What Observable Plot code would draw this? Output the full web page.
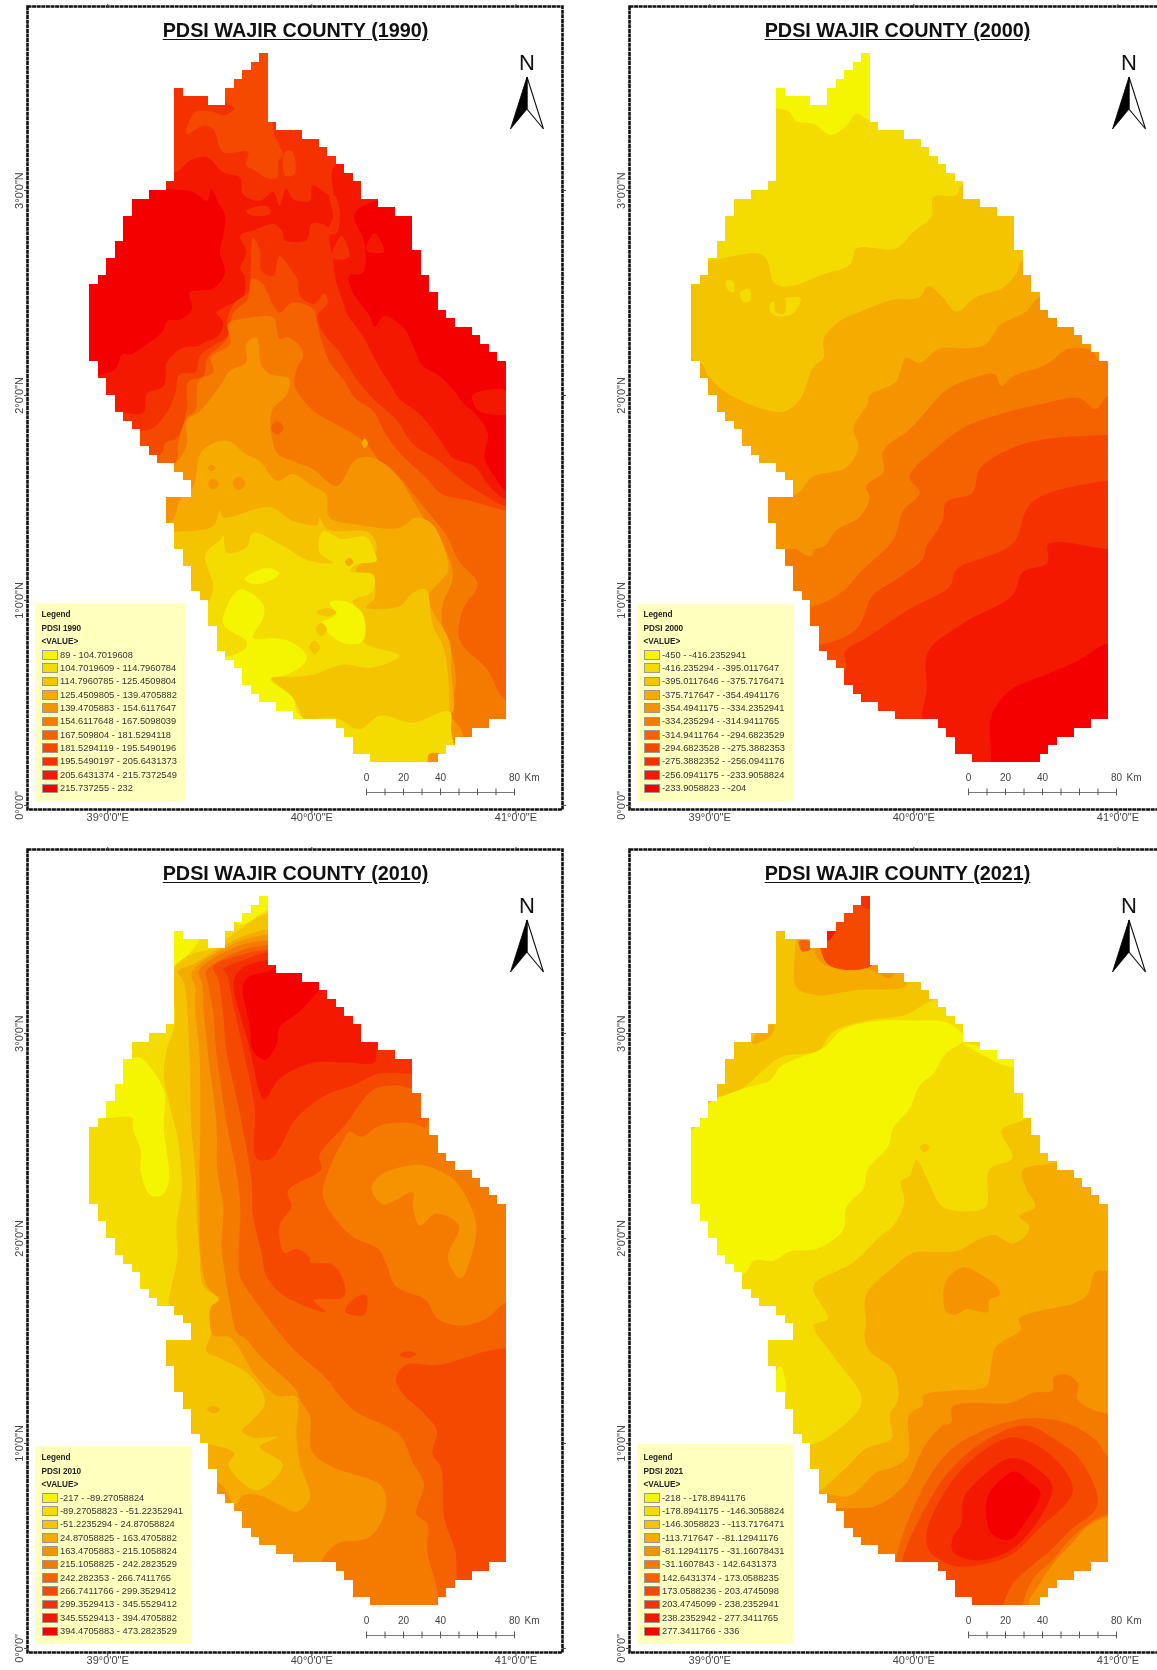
<!DOCTYPE html>
<html>
<head>
<meta charset="utf-8">
<script src="https://cdn.jsdelivr.net/npm/d3@7"></script>
<script src="https://cdn.jsdelivr.net/npm/@observablehq/plot@0.6"></script>
<style>
html,body{margin:0;padding:0;background:#fff;}
#page{position:relative;width:1157px;height:1670px;overflow:hidden;background:#fff;filter:blur(.45px);font-family:"Liberation Sans",Arial,sans-serif;}
.panel{position:absolute;width:580px;height:827px;}
.panel svg.plot{position:absolute;left:0;top:0;}
.title{position:absolute;left:26.5px;width:538px;top:18px;text-align:center;font-size:19.8px;line-height:24px;font-weight:bold;color:#111;text-decoration:underline;text-underline-offset:2px;white-space:nowrap;}
.north{position:absolute;left:502px;top:49px;}
.legend{position:absolute;left:35px;background:#FFFFBE;color:#333;}
.legend div{position:absolute;white-space:nowrap;line-height:10px;}
.legend .h{left:6.5px;font-size:8.2px;font-weight:bold;color:#222;}
.legend .sw{left:7px;width:14px;height:7.6px;border:1px solid #999;}
.legend .t{font-size:9.3px;}
</style>
</head>
<body>
<div id="page"></div>
<script>
// Ordered class ramp of the maps
const classColors = ["#F5F500","#F5DC00","#F5C400","#F5AB00","#F59300","#F57A00","#F56200","#F54900","#F53100","#F51800","#F50000"];
const classIndex = [0,1,2,3,4,5,6,7,8,9,10];

// Raster footprint of the county on the 1/24 degree grid: first and last+1 column per row
const gridLon0 = 38.912, gridLat0 = 3.667, gridStep = 1/24;
const rowLeft = [20,19,18,17,10,10,10,10,10,10,10,10,10,10,10,9,7,5,5,4,4,4,3,3,2,2,1,0,0,0,0,0,0,0,0,0,1,1,2,2,3,3,4,5,6,6,7,8,10,11,12,12,9,9,9,10,10,10,11,11,12,12,12,13,14,14,14,15,15,15,16,17,18,18,19,20,22,24,29,30,31,31,33];
const rowRight = [21,21,21,21,21,21,21,21,22,25,27,28,29,30,31,32,32,34,36,38,38,38,38,39,39,39,40,40,41,41,42,43,45,46,47,48,49,49,49,49,49,49,49,49,49,49,49,49,49,49,49,49,49,49,49,49,49,49,49,49,49,49,49,49,49,49,49,49,49,49,49,49,49,49,49,49,49,49,47,45,43,42,41];
const rowGaps = [[4,11,16],[5,14,16]];

const everything = [-2,-2, 52,-2, 52,86, -2,86];

const zones1990 = [
 [10, everything],
 [9, [32.9,17.4, 31.1,18.9, 32.3,22.1, 32.1,25.6, 30.5,26, 30.9,27.9, 32.9,30.7, 33.5,32, 34.6,30.7, 37,32.2, 38,34.2, 39.1,36.5, 41.1,37.7, 42.7,39.3, 44,41, 45.2,42, 46.8,44.5, 46.4,47.3, 47.7,49.6, 49,51.2, 52,51.2, 52,86, -2,86, -2,39.3, 3,36.9, 3.8,35.2, 4.8,35.2, 6.7,34, 8.5,32.6, 9.1,31.3, 10.6,31.1, 12,29.9, 11.8,27.9, 14.5,27.5, 15.9,25.6, 15.3,23.2, 15.7,21.3, 15.9,18.9, 15.1,17.4, 14.3,15.8, 13.8,17.2, 12.2,16.2, 9,15.8, -2,15, -2,-2, 52,-2, 52,16]],
 [9, [45,40, 47,39.3, 49,39.5, 49.5,42, 47,42.2, 45.5,41.6]],
 [8, [-2,-2, 52,-2, 52,10, 28.8,13.1, 28.6,16.6, 28.2,16.6, 26.2,15.4, 25.9,17.2, 23.9,17, 23.1,15.8, 22.3,17.8, 21.6,16.2, 20,17.2, 18,16.4, 17.7,14.5, 15.7,13.9, 13.8,12.1, 11.8,12.5, 10,13.9, -2,14]],
 [8, [28.2,16.6, 28.8,16.6, 29.4,18.5, 29,21, 28,21, 28.6,19]],
 [8, [18.4,18.4, 20.8,17.8, 21.3,18.6, 20.2,19, 18.8,18.8]],
 [8, [28.5,23.9, 29.6,21.3, 30.5,23.8]],
 [9, [32.5,23, 33.5,21, 34.6,23.2]],
 [8, [17.7,21.3, 19.2,20.7, 21.6,19.9, 22.7,20.9, 22.9,21.8, 25.5,21.8, 26.1,19.9, 28,20.3, 28.2,22.1, 28.6,24, 28.8,26, 29.8,29.1, 30.4,30.7, 32.1,33, 33.7,36.1, 35.2,38.5, 36.4,40.4, 38.8,42.2, 41.1,45.1, 42.7,47.3, 45.4,48.4, 46.8,50.4, 49,52.2, 52,52.2, 52,86, -2,86, -2,42, 6.3,42, 6.7,39.8, 8.7,38.9, 9.1,36.1, 11,34.4, 12.8,34.2, 13.4,33.8, 15.1,33, 15.7,31.4, 14.9,30.3, 15.7,29.7, 18,28.5, 18.2,26, 17.7,25.2, 18.4,23.2]],
 [7, [16,-2, 24,-2, 21.5,8.5, 22.3,10.7, 22.7,11.9, 22.2,12.5, 22,14.5, 20.8,14.5, 19.2,13.5, 18.4,13.1, 18.6,11.5, 15.7,11.5, 14.5,8.8, 13.4,8.4, 11.4,9.4, 12.4,6.8, 14.5,6.8, 15.8,7.2, 17,6.4, 15.9,5.5, 15.9,3.7]],
 [7, [22.9,11.6, 23.8,11.4, 24.1,14, 23,14.3]],
 [7, [-2,44, 7,44, 8.9,42.2, 10,40, 10.6,37.5, 12.4,37.3, 13,35.3, 14.5,34.2, 16.3,32.9, 16.1,31.4, 17,29.2, 18.7,27.8, 18.9,25.4, 19.2,21.5, 20,23, 20.2,25.4, 21.6,26, 22.3,23.7, 23.9,25.6, 24.5,26.6, 24.7,28.3, 26.3,29.3, 27.6,28.1, 28,29.1, 26.8,30.7, 27.4,32.6, 29.4,35, 31.3,38, 33.3,40.4, 36,42.8, 38,45.7, 41.1,47.7, 43.8,50, 46.6,51.8, 49,53, 52,53, 52,86, -2,86]],
 [6, [-2,47, 8.3,46.9, 8.9,45.5, 10.2,45, 11.4,41.8, 11.6,38.4, 13.4,37.7, 13.8,35.7, 16.1,33.4, 16.9,30.3, 18.6,28.7, 19,26.4, 20.2,26.8, 21.4,29.1, 22.3,30.3, 23.9,29.1, 26.3,29.9, 26.7,31.4, 27.2,33.4, 28.2,36.1, 29.8,38.1, 31.3,40.4, 33.3,41.8, 35,44.9, 37,47.3, 39.5,49.6, 41.5,51.6, 44.6,52.3, 49,53.5, 52,53.5, 52,86, -2,86]],
 [5, [-2,48.5, 10,48, 10.4,45.7, 11.4,42.6, 12.4,41.8, 12.8,38.3, 14.5,37.3, 14.3,35.5, 16.5,34, 16.3,31.6, 18.8,30.9, 21.6,30.9, 22,32.2, 22.3,33.4, 23.3,33.2, 24.7,34.2, 25.1,35.4, 24.5,36.5, 24.1,38.9, 26.3,41.8, 29,43.4, 31.3,44.7, 32.9,46.1, 34.1,47.7, 36.4,49.6, 38.4,52, 40.3,54.3, 41.9,56.3, 43.4,59.4, 45.6,62.1, 43.8,65.2, 43.4,68.4, 44.4,69.9, 46.6,71.9, 49,75.8, 52,75.8, 52,86, -2,86]],
 [4, [-2,50, 10,47.9, 11.4,45.7, 11.4,43, 13,41.8, 15.3,38.9, 16.5,37.1, 18.4,36.1, 18.4,34, 19.6,33.2, 20.2,36.5, 21.2,37.5, 23.5,38.1, 23.1,40, 21.4,41.8, 22,46.7, 23.9,47.7, 26.2,48.6, 29,50.6, 31.3,47.5, 33.3,47.3, 36,49.2, 38,52.3, 39.5,54.7, 41.9,58.2, 42.7,61.3, 41.5,64.5, 41.5,67.2, 42.7,70.7, 43,74.2, 41.9,77.2, 43,78.2, 44,80, 44,86, -2,86]],
 [3, [-2,55, 9.5,54.8, 10.6,52.3, 12.2,50.6, 13.2,46.5, 16.1,45.3, 18.4,46.9, 20,47.7, 22,50, 23.9,49.2, 26.2,50.6, 27.8,51.6, 28.2,54.3, 31.3,55.1, 36.4,55.5, 38.4,54.3, 40.3,55.1, 41.9,58.6, 42.1,60.6, 39.7,63.7, 40.3,65.2, 42.3,68.8, 42.5,72.3, 42.7,77, 41.9,77.5, 42.5,79.5, 42.5,80.9, 43,86, -2,86]],
 [2, [-2,56, 10,56, 14.5,55.3, 15.3,53.5, 15.7,54.3, 21.2,53.1, 23.9,54.7, 26.8,55.1, 27,54.3, 28,55.7, 32.9,56.1, 33.7,58.2, 31.3,60.4, 33.3,61.7, 33.5,63.7, 32.5,64.8, 36.4,64.7, 38,63.1, 39.5,62.7, 40.3,66.8, 41.7,69.9, 42.3,77, 42.1,80.9, 43,86, -2,86]],
 [1, [-2,64.5, 13.5,64.5, 14.5,62.5, 13.6,58.6, 15.3,57, 15.7,56.4, 16.1,58.4, 18.4,57.8, 19.2,56.1, 22.3,57.4, 25.9,59.4, 28.6,59.6, 27,58.4, 27.4,55.9, 29.6,56.8, 32.5,56.6, 33.5,58.4, 33.7,59.4, 31.3,59.8, 30.6,60.6, 33.3,61, 33.3,62.9, 30.9,64.1, 32.1,65.6, 32.1,68.8, 36.4,70.5, 32.9,71.9, 29.8,71.5, 26.2,72.7, 23,73, 21.2,73, 23.9,75.4, 24.7,77, 25.1,77.8, 29,77.8, 31.7,79.1, 34.1,77.5, 38,78.3, 42.3,77, 42.5,79.4, 43,86, -2,86]],
 [0, [18.2,61.5, 20.8,60.2, 22.3,60.8, 21.2,61.7, 19.2,62.1]],
 [0, [-2,71, 16.5,70.5, 18.4,69.5, 18.4,68.8, 15.7,66.8, 16.1,64.8, 17.7,62.7, 20.4,64.5, 20.4,66, 19.2,68.4, 21.6,68.4, 23.5,68.8, 25.5,70.5, 25.1,71.5, 23.1,72.7, 21.2,73.2, 23.9,75.4, 24.3,77, 25,77.8, 25,86, -2,86]],
 [0, [28.2,64.3, 30,64.1, 32.1,65.6, 32.1,68.8, 29.8,69, 27.8,67.6, 27,66.8, 29,65.6]],
 [2, [26.6,65.4, 28,64.9, 29,65.4, 28,65.9]],
 [2, [26.6,67.4, 27.2,66.6, 27.9,67.4, 27.2,68.2]],
 [2, [25.8,69.5, 26.4,68.7, 27.1,69.5, 26.4,70.3]],
 [4, [13.9,50.4, 14.5,49.8, 15.2,50.4, 14.5,51]],
 [4, [16.8,50.3, 17.5,49.5, 18.3,50.3, 17.5,51.1]],
 [4, [13.9,48.5, 14.3,48.1, 14.8,48.5, 14.3,48.9]],
 [6, [21.3,43.8, 22,43, 22.8,43.8, 22,44.6]],
 [4, [28.9,53.4, 29.6,52.7, 30.4,53.4, 29.6,54.1]],
 [3, [32,45.6, 32.3,45, 32.7,45.6, 32.3,46.2]],
 [3, [30,59.5, 30.5,59, 31,59.5, 30.5,60]],
 [4, [39.9,82, 41.2,82, 41.2,83.5, 39.9,83.5]],
 [8, [29.4,32.5, 30.5,32, 31,33, 30.3,34.2]]
];

const zones2000 = [
 [0, everything],
 [1, [-2,6.4, 10,6.4, 11.5,6.8, 12.3,7.9, 14.3,8.2, 16.4,9.5, 18.2,8.4, 19.4,7, 21,7.8, 52,7.8, 52,86, -2,86]],
 [2, [-2,24.2, 2,24.2, 8.4,23.6, 9.8,26.9, 11.6,27.2, 15.5,25.8, 18.6,24.7, 19.4,22.8, 24,22.8, 26,20.9, 28.2,19, 28.4,16.8, 31.1,16.5, 31.9,15.2, 52,15, 52,86, -2,86]],
 [1, [9.2,29.3, 11.6,28.5, 12.8,28.6, 11.8,30.5, 9.5,30.5]],
 [2, [9.9,28.7, 10.9,28.6, 10.9,30.4, 9.9,30.3]],
 [1, [4,26.6, 4.8,26.6, 5,27.9, 4.3,27.7]],
 [1, [5.7,27.9, 6.8,27.5, 6.8,29, 6,29]],
 [3, [-2,36, 1,36.2, 2,37.8, 4.1,39.7, 8.4,41.6, 10.8,41.9, 12.7,40.5, 14.3,36.7, 15.5,35.6, 15.5,33.4, 17.4,31.3, 19.8,30.2, 23.7,28.8, 26.8,28.5, 27.8,27.2, 29.5,28.5, 31.1,30.2, 33.4,28.5, 36.6,27.4, 38.1,25.8, 38.9,24.2, 52,24, 52,86, -2,86]],
 [4, [-2,52, 12,51.7, 14.3,49.5, 18.2,48.4, 19.6,46, 19,43.8, 20.7,41, 20.9,40, 24,38.4, 25.2,35.6, 26.8,36.2, 29.1,34.5, 31.9,34.5, 34.6,34, 36.2,31.8, 39.3,30.2, 40.9,28.5, 52,28, 52,86, -2,86]],
 [5, [-2,58, 11.2,58, 15.5,57.7, 17,55.8, 19.8,54.2, 20.9,52, 20.5,50.6, 22.5,49, 22.5,46.5, 25.6,44, 27.8,41.6, 29.9,39.4, 33,38, 35.6,37.5, 36.4,38.9, 37.7,37.8, 41.6,36.4, 44.4,34.5, 47.1,34.8, 48,36, 52,34, 52,86, -2,86]],
 [4, [12.2,57.6, 14,57.2, 14.2,58.8, 13,58.5]],
 [6, [-2,65, 13.9,64.8, 17.8,62.9, 19.8,60.7, 23.7,56.9, 24.8,53.6, 26.8,51.4, 25.6,49.5, 28.4,46.5, 31.9,43.8, 36.2,42.2, 41.2,41, 45.5,40.3, 47.5,41.6, 49,40, 52,40, 52,86, -2,86]],
 [7, [-2,69.5, 15.1,69.2, 19.4,67.3, 21.3,63.4, 23.7,61.8, 27.2,59.1, 27.6,57.7, 29.5,54.7, 29.9,52.5, 33,51.4, 33.8,48.7, 35.8,47.1, 40,45.4, 49,44.6, 52,44.6, 52,86, -2,86]],
 [8, [-2,72.5, 18,72.2, 18,70, 20.5,68.4, 25.6,65, 30.3,62.4, 31.1,60.4, 37.7,57.4, 40,52.5, 49,50, 52,50, 52,86, -2,86]],
 [9, [27.8,70, 31.9,66.7, 37.7,63.4, 38.9,60.7, 41.8,59.6, 42,57.4, 49,58, 52,58, 52,86, 28.6,86, 30,80, 27.2,78.7, 27.6,74.4]],
 [10, [35.2,82.3, 35.2,77.6, 37.3,74.6, 41.6,72.7, 45.5,71, 49,69, 52,69, 52,86, 35,86]]
];

const zones2010 = [
 [1, everything],
 [2, [-2,49, 10,48.3, 9.3,47.7, 9.5,46.1, 10.3,42.3, 10.2,38.5, 10.8,34.1, 10.4,28.6, 9.5,24.8, 8.7,21, 9.1,17.7, 10,15, 10,8.2, 11.8,6.8, 14.5,6, 17.7,3.8, 21,1.9, 52,1.9, 52,86, -2,86]],
 [3, [-2,64.5, 13.9,64.1, 17,65.2, 16.3,66.5, 19.6,69.5, 22.7,66.5, 20,64.4, 22,63.3, 19.2,63.3, 17.9,62.5, 19,61.4, 20.6,59.2, 19,56.2, 15.3,54, 13.7,53.2, 14.3,51, 14.1,48.2, 15.1,47.1, 13.4,45.6, 12.9,41.7, 12.6,36.8, 12.4,32, 11.9,26.5, 11.8,21, 11.6,15.5, 11.1,10.1, 10.4,8.7, 12.2,7.9, 16.1,5.5, 21,3.8, 52,3.8, 52,86, -2,86]],
 [3, [13.8,60, 14.6,59.6, 15.3,60, 14.6,60.5]],
 [4, [-2,68.5, 15,68.5, 17.1,71.2, 18,70.1, 20,70.1, 22.3,71.2, 24.3,72, 25.9,70.4, 24.7,66.3, 24.3,63, 24.3,58.6, 22,58.4, 19.6,56.2, 16.5,51.6, 14.5,51.3, 14.3,48, 15.3,47.2, 13.8,45.6, 13,41.7, 12.9,36.8, 12.9,31.9, 13,26.5, 12.9,18.3, 12.4,13.4, 12.4,10.6, 12,8.9, 16.5,5.7, 21,4.4, 52,4.4, 52,86, -2,86]],
 [5, [27,78.4, 29,75.8, 32.9,75, 34.8,71.7, 34.3,69, 28.6,66.8, 26.1,64.9, 25.9,60.8, 24.7,58.9, 24.3,57.8, 20,53.7, 18.4,51.8, 17.3,51, 16.5,47.7, 15.7,42.8, 15.5,40.6, 15.7,36.3, 15,31.9, 14.9,26.5, 13.9,18.3, 13.4,13.4, 13.2,10.1, 12.8,8.7, 16.9,6, 21,5.1, 52,5.1, 52,86, 27,86]],
 [6, [40.9,81.6, 39.7,76.6, 39.7,73.4, 38.4,72.3, 39.3,68.7, 38,66.3, 36.4,63, 31.3,60.3, 29.8,58.9, 27.6,56.2, 23.9,52.9, 20.2,48.3, 17.7,44.5, 17.5,42.3, 17.7,36.3, 17.3,32.5, 16.1,26.5, 14.9,18.3, 14.5,13.4, 13.9,10.1, 13.7,8.7, 17.3,6.5, 21,5.6, 52,5.6, 52,86, 40.9,86]],
 [5, [27.4,34.6, 28.2,36.8, 30.9,39.8, 33.9,41.2, 34.8,42.8, 36,45.6, 39.5,47.2, 40.9,49.4, 43.8,50.2, 46.6,49.4, 49,47.5, 52,47.5, 52,26, 40,26, 39.5,27, 38,26.5, 34.3,26.7, 31.9,28.1, 30.5,27.5, 29.8,28.6, 28.6,30.8]],
 [4, [33.1,34.1, 34.3,32.5, 38,31.4, 39.9,31.6, 43,33.3, 45.4,38.2, 44.8,42.3, 43.6,44.7, 42.1,42.3, 43.4,38.5, 40.7,37.1, 38.8,38.5, 38,36.3, 38,34.6, 34.5,36]],
 [7, [15.1,9.6, 14.5,8.2, 17.7,6.8, 21,6.2, 52,6.2, 52,20, 38,22.4, 36,22.1, 33.3,22.6, 30.2,26.5, 27,30.3, 27.2,31.9, 23.3,34.4, 23.7,36.3, 22.3,38.5, 22.9,41.7, 24.3,41.2, 25.9,42.3, 25.9,42.8, 28.6,43.1, 30,45.6, 29.8,46.9, 26.3,47.2, 27.8,48.6, 26.3,48.3, 22.7,46.6, 20.8,44.5, 20.2,41.7, 19.2,37.4, 19,33, 17.3,23.7, 16.1,18.3, 15.7,13.9]],
 [7, [36,56.5, 37.2,54.8, 41.1,54.8, 46.6,53.2, 49,52.9, 52,52.9, 52,86, 44.5,86, 43.2,79.9, 43,76.7, 41.7,72.8, 41.3,66.8, 40.3,65.2, 40.8,62.5, 39.1,60.3, 37,58.4]],
 [7, [30,48.6, 31.3,46.9, 32.5,46.6, 32.3,48.9]],
 [7, [36.4,53.6, 37.4,53.2, 38.4,53.5, 37.4,54]],
 [8, [38,20.7, 34,20.7, 30.9,22.1, 27.8,23.2, 24.3,25.9, 21.4,30.6, 19.6,30.6, 19.4,24.8, 18,17.7, 16.9,12.8, 16.1,9, 15.7,8.5, 18.4,7.3, 21,6.5, 52,6.5, 52,20]],
 [9, [20.5,23.7, 22.3,21.3, 26.3,19.4, 30.2,19.4, 33.5,19.4, 34,17.2, 52,17, 52,7, 21,7.4, 17.7,8.5, 16.9,10.1, 17.7,13.9, 18.8,17.7]],
 [10, [18,10.4, 18.8,15, 19.2,18, 20.6,19.1, 22,17.2, 22.3,15.3, 24.7,13.4, 27,10.9, 30,8, 25,6, 21,8.7, 18.8,9.3]],
 [0, [-2,25.9, 2,25.9, 5,25.9, 5.1,27.3, 6,29.7, 6,32.2, 7.1,34.9, 8.5,34.9, 9.3,33.3, 8.7,27, 8.7,22.6, 5.9,18.8, 5,18.8, 5,18, -2,18]],
 [0, [9,8.5, 10,8, 12.8,5.2, 12.8,3, 9,3]],
 [0, [17.5,3.2, 21,1.6, 23,1.6, 23,-2, 17,-2]]
];

const zones2021 = [
 [1, everything],
 [2, [-2,26, -2,-2, 52,-2, 52,10, 28.7,12, 25.2,13.8, 20.5,14.5, 16.6,15.8, 14.9,18, 10.4,18.8, 8,20.7, 5.7,22.6, 3,23.5]],
 [3, [7.1,17.2, 9.2,16.4, 9.7,15, 8,15.5]],
 [3, [12.1,7.1, 12.3,10.6, 14.7,11.5, 19.4,10.9, 25.2,10.4, 25,9, 22.1,8.2, 20.8,7.4, 15.5,7.4, 14.5,6, 12.5,4.9]],
 [4, [14.3,5.7, 15.5,7.9, 20.9,8.5, 23.3,9.5, 23.7,8.7, 21,7.4, 15.9,7.4, 15.5,5.7]],
 [6, [12.6,5.2, 13.9,5.2, 14,6.1, 13,6.4]],
 [7, [15.9,7.8, 21.5,7.8, 21.5,-1, 15.9,-1]],
 [9, [15.9,3.9, 16.9,3.9, 16,5.2]],
 [8, [20,-1, 21.5,-1, 21.5,1.2, 20,1.2]],
 [2, [-2,64.5, 14.1,64.1, 16.8,62.7, 19.8,59.7, 19.8,58.1, 16.6,53.7, 14.3,50.2, 16,49.4, 14.3,45.6, 19,42.8, 22.1,39.8, 23.7,38.5, 25,35.7, 24.6,33.3, 25.6,32.7, 26.4,30.8, 27.8,33.3, 29.5,36.3, 32.3,36.8, 34.6,36.3, 35,31.9, 37.7,30.6, 36.4,27.3, 38.9,26.2, 39.3,25.9, 52,25, 52,86, -2,86]],
 [2, [26.8,29.3, 27.4,28.9, 28,29.3, 27.4,29.9]],
 [3, [-2,70, 15,69.5, 15.9,68.9, 18.2,66.8, 20.5,64.6, 23.5,63.4, 23.3,60.8, 24.3,58.6, 23.7,55.4, 20.9,53.2, 20.3,51.5, 20.5,50, 20.5,46.6, 23.7,43.4, 26,41.7, 31.1,41.5, 33.8,40.1, 35.6,39.6, 37.7,40.6, 39.3,39.6, 39.7,38.5, 38.5,37.4, 40.4,36.3, 39.3,34.1, 38.9,32, 42.8,31.1, 44,30.5, 52,30, 52,86, -2,86]],
 [4, [52,43.8, 49,43.8, 47.5,43.9, 46.5,46.6, 45.2,47.5, 38.5,49.4, 38.7,50.7, 35.8,52.6, 35.2,54.8, 34.6,57.3, 30.7,57.8, 27.2,58.4, 27.2,59.5, 25.6,60.6, 25.4,65.5, 23.7,66.8, 21.7,67.4, 18.6,70.1, 15,69.8, -2,70, -2,86, 52,86]],
 [4, [29.9,45, 31.9,43.4, 33.9,44.2, 36,45.8, 36.2,46.6, 35,47.2, 34.8,48.6, 32.3,48.3, 31.1,48.9, 29.9,48.6]],
 [5, [52,60.6, 49,60.6, 45.4,58.9, 45.4,57, 44,55.9, 42.6,56.2, 42.4,57.8, 40,58.1, 37.7,59.2, 30.7,59.7, 30.5,61.6, 29.5,61.9, 27.2,64.6, 25.2,68.7, 21.7,71.3, 18.6,71.6, -2,72, -2,86, 52,86]],
 [4, [49,72.6, 46.7,73.6, 44.8,75.6, 42.8,77.7, 40.9,80.5, 39.7,83, 52,86, 52,72.6]],
 [6, [49,65.5, 47.5,63.6, 44,61.6, 39.3,61.1, 33.8,62.7, 30,65.2, 27,69.6, 24,77.7, 24,86, 38.5,86, 38.9,82.9, 40.1,79.9, 42.4,77.7, 44.4,75.3, 47.1,73.1, 49,72.3, 52,72.3, 52,65.5]],
 [7, [47.7,70.1, 45.5,65.7, 42.8,63.6, 39.3,61.9, 34.6,63.6, 30.7,66.8, 28,70.6, 24.7,78, 24.7,86, 36,86, 36.6,83, 37.7,80.5, 40.1,78.2, 42,76.7, 44.7,74, 47.5,71.7]],
 [8, [44.8,69.6, 42.4,65.5, 37.7,63.3, 33.4,65.5, 30,69.3, 27.6,74.5, 28,76.7, 30.7,78.3, 33.4,78.3, 37.3,77.2, 40.9,73.9]],
 [9, [42.4,69.6, 42,68.2, 37.7,65.7, 33,69, 31.9,70.6, 31.7,73.4, 30.7,75, 30.7,76.7, 33.4,77.7, 37.3,76.6, 40.1,73.9]],
 [10, [41,69.8, 39.7,68.5, 37.9,67.3, 35,69.8, 34.6,71.2, 35.2,74.5, 37.3,75.3, 39.3,73.1]],
 [0, [0,27.3, 1,26.2, 2,24.3, 5.7,22.6, 9.2,21.5, 10.4,19.9, 12.7,18.8, 15.5,17.7, 17.8,15.5, 22.1,14.5, 26,14.5, 29.9,14.7, 31.9,16.1, 31.9,16.9, 29.9,18.3, 28.4,20.7, 26.8,22.1, 25.6,24.8, 23.7,27, 23.1,29.2, 20.7,31.9, 20.2,34.1, 18.2,36.3, 17.8,39, 14.7,41.2, 11.6,41.5, 9.6,42.6, 7.3,42.6, 6.1,44.2, -2,46, -2,27]],
 [0, [32,17.2, 35,17.8, 38,18.8, 39,20, 37,19.8, 34,18.4]],
 [0, [10,55.4, 10.5,55, 11,58.5, 10,58.5]]
];

// Legend texts
const legend1990 = ["89 - 104.7019608","104.7019609 - 114.7960784","114.7960785 - 125.4509804","125.4509805 - 139.4705882","139.4705883 - 154.6117647","154.6117648 - 167.5098039","167.509804 - 181.5294118","181.5294119 - 195.5490196","195.5490197 - 205.6431373","205.6431374 - 215.7372549","215.737255 - 232"];
const legend2000 = ["-450 - -416.2352941","-416.235294 - -395.0117647","-395.0117646 - -375.7176471","-375.717647 - -354.4941176","-354.4941175 - -334.2352941","-334.235294 - -314.9411765","-314.9411764 - -294.6823529","-294.6823528 - -275.3882353","-275.3882352 - -256.0941176","-256.0941175 - -233.9058824","-233.9058823 - -204"];
const legend2010 = ["-217 - -89.27058824","-89.27058823 - -51.22352941","-51.2235294 - 24.87058824","24.87058825 - 163.4705882","163.4705883 - 215.1058824","215.1058825 - 242.2823529","242.282353 - 266.7411765","266.7411766 - 299.3529412","299.3529413 - 345.5529412","345.5529413 - 394.4705882","394.4705883 - 473.2823529"];
const legend2021 = ["-218 - -178.8941176","-178.8941175 - -146.3058824","-146.3058823 - -113.7176471","-113.717647 - -81.12941176","-81.12941175 - -31.16078431","-31.1607843 - 142.6431373","142.6431374 - 173.0588235","173.0588236 - 203.4745098","203.4745099 - 238.2352941","238.2352942 - 277.3411765","277.3411766 - 336"];

const lonTicks = [39,40,41];
const latTicks = [0,1,2,3];
const scaleTicks = [0,10,20,30,40,50,60,70,80];
const scaleLabels = [0,20,40,80];

const panels = [
 {year:1990, zones:zones1990, legend:legend1990, left:0,   top:0,   box:[603,150]},
 {year:2000, zones:zones2000, legend:legend2000, left:602, top:0,   box:[604,157]},
 {year:2010, zones:zones2010, legend:legend2010, left:0,   top:843, box:[603,157]},
 {year:2021, zones:zones2021, legend:legend2021, left:602, top:843, box:[601,156]}
];

const lonDomain = [38.607,41.228];
const latDomain = [-0.02,3.898];
const colLon = c => gridLon0 + c*gridStep;
const rowLat = r => gridLat0 - r*gridStep;

// White mask outside the county footprint, as row spans of the grid, out to the frame
const frameCol1 = (lonDomain[0]-gridLon0)/gridStep, frameCol2 = (lonDomain[1]-gridLon0)/gridStep;
const frameRow1 = (gridLat0-latDomain[1])/gridStep, frameRow2 = (gridLat0-latDomain[0])/gridStep;
const maskRows = [{c1:frameCol1,c2:frameCol2,r1:frameRow1,r2:0},{c1:frameCol1,c2:frameCol2,r1:83,r2:frameRow2}];
rowLeft.forEach((L,r)=>{
  maskRows.push({c1:frameCol1,c2:L,r1:r,r2:r+1});
  maskRows.push({c1:rowRight[r],c2:frameCol2,r1:r,r2:r+1});
});
rowGaps.forEach(([r,a,b])=>maskRows.push({c1:a,c2:b,r1:r,r2:r+1}));

const kmLon = km => 40.268 + km*0.00906;

function mapPlot(p){
  const rows = [];
  p.zones.forEach(([cls,flat],id)=>{
    for(let i=0;i<flat.length;i+=2) rows.push({id,cls,lon:colLon(flat[i]),lat:rowLat(flat[i+1])});
  });
  return Plot.plot({
    width:580, height:827,
    marginLeft:27, marginTop:6, marginRight:18, marginBottom:18,
    style:{background:"transparent",fontFamily:"'Liberation Sans',Arial,sans-serif"},
    x:{domain:lonDomain},
    y:{domain:latDomain},
    color:{type:"ordinal",domain:classIndex,range:classColors},
    marks:[
      Plot.line(rows,{x:"lon",y:"lat",z:"id",fill:"cls",stroke:"none",curve:"catmull-rom-closed",clip:"frame"}),
      Plot.rect(maskRows,{x1:d=>colLon(d.c1),x2:d=>colLon(d.c2),y1:d=>rowLat(d.r1),y2:d=>rowLat(d.r2),fill:"white",shapeRendering:"crispEdges"}),
      Plot.frame({stroke:"#111",strokeWidth:2.6,strokeDasharray:"4 0.6"}),
      Plot.axisX({ticks:lonTicks,anchor:"bottom",label:null,tickFormat:v=>`${v}°0'0"E`,tickSize:4,tickPadding:0,fontSize:11,color:"#444"}),
      Plot.axisX({ticks:lonTicks,anchor:"top",text:null,label:null,tickSize:3,color:"#444"}),
      Plot.axisY({ticks:latTicks,anchor:"left",tickFormat:v=>v===0?`0°0'0"`:`${v}°0'0"N`,tickRotate:-90,tickSize:3,tickPadding:2,fontSize:11,color:"#444",label:null}),
      Plot.axisY({ticks:latTicks,anchor:"right",text:null,label:null,tickSize:3,color:"#444"}),
      Plot.ruleY([0.063],{x1:kmLon(0),x2:kmLon(80),stroke:"#777",strokeWidth:1}),
      Plot.ruleX(scaleTicks,{x:kmLon,y1:0.047,y2:0.08,stroke:"#555",strokeWidth:1}),
      Plot.text(scaleLabels,{x:kmLon,y:0.137,text:d=>String(d),fontSize:10,fill:"#444"}),
      Plot.text(["Km"],{x:kmLon(80),dx:10,y:0.137,text:d=>d,fontSize:10,fill:"#444",textAnchor:"start"})
    ]
  });
}

const page = document.getElementById("page");
panels.forEach(p=>{
  const panel = document.createElement("div");
  panel.className = "panel";
  panel.style.left = p.left+"px";
  panel.style.top = p.top+"px";
  panel.appendChild(mapPlot(p));

  const title = document.createElement("div");
  title.className = "title";
  title.textContent = `PDSI WAJIR COUNTY (${p.year})`;
  panel.appendChild(title);

  const north = document.createElement("div");
  north.className = "north";
  north.innerHTML = `<svg width="50" height="86" viewBox="0 0 50 86"><text x="25" y="21" text-anchor="middle" font-size="22" font-family="Liberation Sans" fill="#111">N</text><path d="M25 28 L41.5 80 L25 60 Z" fill="#fff" stroke="#111" stroke-width="1.1"/><path d="M25 28 L8.5 80 L25 60 Z" fill="#000" stroke="#000" stroke-width=".8"/></svg>`;
  panel.appendChild(north);

  const box = document.createElement("div");
  box.className = "legend";
  const boxTop = p.box[0];
  box.style.top = boxTop+"px";
  box.style.width = p.box[1]+"px";
  box.style.height = (800.5-boxTop)+"px";
  const head = (txt,y)=>{const d=document.createElement("div");d.className="h";d.style.top=y+"px";d.textContent=txt;box.appendChild(d);};
  head("Legend",608-boxTop+2);
  head(`PDSI ${p.year}`,622-boxTop+2);
  head("<VALUE>",635-boxTop+2);
  p.legend.forEach((txt,i)=>{
    const y = 650-boxTop+i*13.35;
    const sw=document.createElement("div");sw.className="sw";sw.style.top=y+"px";sw.style.background=classColors[i];box.appendChild(sw);
    const t=document.createElement("div");t.className="t";t.style.top=(y-.5)+"px";t.style.left="25px";t.textContent=txt;box.appendChild(t);
  });
  panel.appendChild(box);
  page.appendChild(panel);
});
</script>
</body>
</html>
